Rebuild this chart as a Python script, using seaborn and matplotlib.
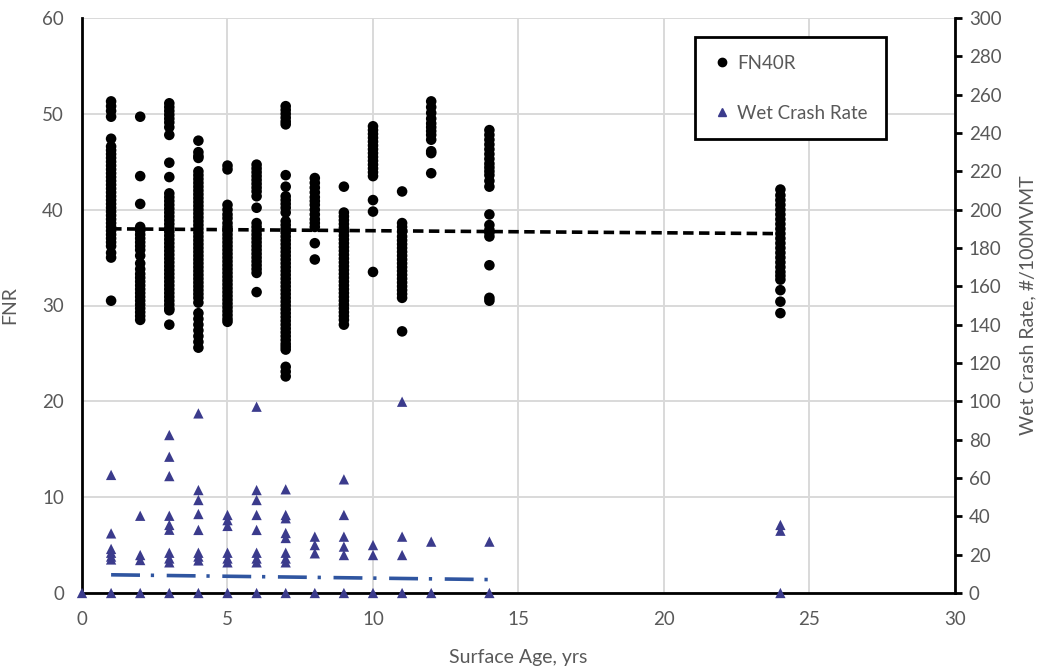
import numpy as np
import pandas as pd
import matplotlib
matplotlib.use("Agg")
import matplotlib.pyplot as plt
import seaborn as sns
from matplotlib.lines import Line2D

# ---------------- data ----------------
fnr_age1 = [51.3, 50.8, 50.3, 49.7, 47.4, 46.6, 46.2, 45.8, 45.4, 45.0, 44.6, 44.2, 43.8, 43.4, 43.0,
            42.6, 42.2, 41.8, 41.4, 41.0, 40.6, 40.2, 39.8, 39.4, 39.0, 38.6, 38.2, 37.8, 37.4, 37.0,
            36.6, 36.2, 35.5, 35.0, 30.5]
fnr_age2 = [49.7, 43.5, 40.6, 38.2, 37.8, 37.4, 37.0, 36.6, 36.2, 35.8, 35.2, 34.4, 33.8, 33.3, 32.9,
            32.5, 32.1, 31.7, 31.3, 30.9, 30.5, 30.1, 29.7, 29.3, 28.9, 28.5]
fnr_age3 = [51.1, 50.7, 50.3, 49.9, 49.5, 49.1, 48.6, 47.8, 44.9, 43.4, 41.7, 41.3, 40.9, 40.5, 40.1,
            39.7, 39.3, 38.9, 38.5, 38.1, 37.7, 37.3, 36.9, 36.5, 36.1, 35.7, 35.3, 34.9, 34.5, 34.1,
            33.7, 33.3, 32.9, 32.5, 32.1, 31.7, 31.3, 30.9, 30.5, 30.1, 29.7, 29.5, 28.0]
fnr_age4 = [47.2, 46.0, 45.6, 45.4, 44.0, 43.6, 43.2, 42.8, 42.4, 42.0, 41.6, 41.2, 40.8, 40.4, 40.0,
            39.6, 39.2, 38.8, 38.4, 38.0, 37.6, 37.2, 36.8, 36.4, 36.0, 35.6, 35.2, 34.8, 34.4, 34.0,
            33.6, 33.2, 32.8, 32.4, 32.0, 31.6, 31.2, 30.8, 30.3, 29.2, 28.6, 28.0, 27.4, 26.8, 26.2,
            25.6]
fnr_age5 = [44.6, 44.2, 40.5, 40.0, 39.5, 39.1, 38.6, 38.2, 37.8, 37.4, 37.0, 36.6, 36.2, 35.8, 35.4,
            35.0, 34.6, 34.2, 33.8, 33.4, 33.0, 32.6, 32.2, 31.8, 31.4, 31.0, 30.6, 30.2, 29.8, 29.4,
            29.0, 28.6, 28.3]
fnr_age6 = [44.7, 44.3, 43.9, 43.5, 43.1, 42.7, 42.3, 41.9, 41.4, 40.2, 38.6, 38.2, 37.8, 37.4, 37.0,
            36.6, 36.2, 35.8, 35.4, 35.0, 34.6, 34.2, 33.8, 33.4, 31.4]
fnr_age7 = [50.8, 50.4, 50.0, 49.6, 49.2, 48.9, 43.6, 42.4, 41.4, 41.0, 40.6, 40.2, 39.7, 38.8, 38.4,
            38.0, 37.6, 37.2, 36.8, 36.4, 36.0, 35.6, 35.2, 34.8, 34.4, 34.0, 33.6, 33.2, 32.8, 32.4,
            32.0, 31.6, 31.2, 30.8, 30.4, 30.0, 29.6, 29.2, 28.8, 28.4, 28.0, 27.6, 27.2, 26.8, 26.4,
            26.0, 25.7, 25.4, 23.6, 23.1, 22.6]
fnr_age8 = [43.3, 42.8, 42.3, 41.8, 41.3, 40.9, 40.5, 40.0, 39.5, 39.0, 38.6, 38.2, 36.5, 34.8]
fnr_age9 = [42.4, 39.7, 39.3, 38.9, 38.5, 38.1, 37.7, 37.3, 36.9, 36.5, 36.1, 35.7, 35.3, 34.9, 34.5,
            34.1, 33.7, 33.3, 32.9, 32.5, 32.1, 31.7, 31.3, 30.9, 30.5, 30.1, 29.7, 29.3, 28.9, 28.5,
            28.0]
fnr_age10 = [48.7, 48.3, 47.9, 47.5, 47.1, 46.7, 46.3, 45.9, 45.5, 45.1, 44.7, 44.3, 43.9, 43.5, 41.0,
             39.8, 33.5]
fnr_age11 = [41.9, 38.6, 38.2, 37.7, 37.2, 36.8, 36.4, 36.0, 35.6, 35.2, 34.8, 34.4, 34.0, 33.6, 33.2,
             32.8, 32.4, 32.0, 31.6, 31.2, 30.8, 27.3]
fnr_age12 = [51.3, 50.7, 50.1, 49.5, 49.0, 48.6, 48.2, 47.8, 47.3, 46.1, 45.9, 43.8]
fnr_age14 = [48.3, 47.8, 47.3, 46.8, 46.3, 45.8, 45.3, 44.8, 44.4, 44.0, 43.6, 43.0, 42.4, 39.5, 38.4,
             37.9, 37.6, 37.2, 34.2, 30.8, 30.5]
fnr_age24 = [42.1, 41.5, 41.0, 40.5, 40.0, 39.5, 39.0, 38.5, 38.0, 37.5, 37.0, 36.5, 36.0, 35.5, 35.0,
             34.5, 34.0, 33.5, 33.1, 32.7, 31.6, 30.4, 29.2]

crash_age0 = [0]
crash_age1 = [61.6, 31.1, 23, 21, 19, 17.5, 0]
crash_age2 = [40.3, 19.8, 17.2, 0]
crash_age3 = [82.4, 71.1, 61.0, 40.3, 35.5, 33, 21, 18, 16, 0]
crash_age4 = [93.7, 53.7, 48.5, 41.2, 32.9, 21, 19, 17, 0]
crash_age5 = [40.7, 38, 35, 21, 18, 16, 0]
crash_age6 = [97.2, 53.7, 48.5, 40.7, 32.9, 21, 18, 16, 0]
crash_age7 = [54.1, 40.7, 39, 31.3, 28.7, 21, 18, 16, 0]
crash_age8 = [29.4, 25.0, 20.7, 0]
crash_age9 = [59.3, 40.7, 29.4, 24.2, 19.8, 0]
crash_age10 = [25.0, 19.8, 0]
crash_age11 = [99.8, 29.4, 19.8, 0]
crash_age12 = [26.8, 0]
crash_age14 = [26.8, 0]
crash_age24 = [35.5, 32.5, 0]

fnr_trend_age = [1, 24]
fnr_trend_val = [38.0, 37.5]
crash_trend_age = [1, 14]
crash_trend_val = [9.5, 7.0]

x_ticks = [0, 5, 10, 15, 20, 25, 30]
fnr_ticks = [0, 10, 20, 30, 40, 50, 60]
crash_ticks = list(range(0, 301, 20))

fnr_groups = {1: fnr_age1, 2: fnr_age2, 3: fnr_age3, 4: fnr_age4, 5: fnr_age5, 6: fnr_age6,
              7: fnr_age7, 8: fnr_age8, 9: fnr_age9, 10: fnr_age10, 11: fnr_age11,
              12: fnr_age12, 14: fnr_age14, 24: fnr_age24}
crash_groups = {0: crash_age0, 1: crash_age1, 2: crash_age2, 3: crash_age3, 4: crash_age4,
                5: crash_age5, 6: crash_age6, 7: crash_age7, 8: crash_age8, 9: crash_age9,
                10: crash_age10, 11: crash_age11, 12: crash_age12, 14: crash_age14,
                24: crash_age24}

fnr_df = pd.DataFrame([(a, v) for a, vals in fnr_groups.items() for v in vals],
                      columns=["age", "fnr"])
crash_df = pd.DataFrame([(a, v) for a, vals in crash_groups.items() for v in vals],
                        columns=["age", "rate"])
fnr_tr = pd.DataFrame({"age": fnr_trend_age, "val": fnr_trend_val})
crash_tr = pd.DataFrame({"age": crash_trend_age, "val": crash_trend_val})

# ---------------- style ----------------
sns.set_theme(style="white")
plt.rcParams["font.family"] = ["Lato", "DejaVu Sans"]
gray = "#595959"
tri_color = "#3b3b8c"

fig = plt.figure(figsize=(10.41, 6.72), dpi=100)
ax = fig.add_axes([82 / 1041, 1 - 593 / 672, (955 - 82) / 1041, (593 - 18) / 672])
ax2 = ax.twinx()

sns.scatterplot(data=fnr_df, x="age", y="fnr", ax=ax, color="black", s=58,
                edgecolor="none", marker="o", zorder=3, legend=False)
sns.lineplot(data=fnr_tr, x="age", y="val", ax=ax, color="black", linewidth=2.6,
             linestyle=(0, (2.9, 1.5)), zorder=4, legend=False)

sns.scatterplot(data=crash_df, x="age", y="rate", ax=ax2, color=tri_color, s=55,
                edgecolor="none", marker="^", zorder=3, legend=False, clip_on=False)
sns.lineplot(data=crash_tr, x="age", y="val", ax=ax2, color="#2f55a0", linewidth=2.6,
             linestyle=(0, (8, 3, 0.9, 3.5)), zorder=4, legend=False)

# axes limits / ticks
ax.set_xlim(0, 30)
ax.set_ylim(0, 60)
ax2.set_ylim(0, 300)
ax.set_xticks(x_ticks)
ax.set_yticks(fnr_ticks)
ax2.set_yticks(crash_ticks)

ax.grid(True, color="#d9d9d9", linewidth=1.4)
ax.set_axisbelow(True)
ax2.grid(False)

for a in (ax, ax2):
    a.spines["top"].set_visible(False)
ax.spines["right"].set_visible(False)
ax.spines["left"].set_color("black")
ax.spines["left"].set_linewidth(2)
ax.spines["bottom"].set_color("black")
ax.spines["bottom"].set_linewidth(2)
ax2.spines["left"].set_visible(False)
ax2.spines["bottom"].set_visible(False)
ax2.spines["right"].set_color("black")
ax2.spines["right"].set_linewidth(2)

ax.tick_params(axis="x", length=0, pad=13, labelsize=13.5, labelcolor=gray)
ax.tick_params(axis="y", length=0, pad=13, labelsize=13.5, labelcolor=gray)
ax2.tick_params(axis="y", length=5, width=2, color="black", direction="out", pad=5,
                labelsize=13.5, labelcolor=gray)

ax.set_xlabel("Surface Age, yrs", fontsize=14, color=gray, labelpad=15)
ax.set_ylabel("FNR", fontsize=14, color=gray, labelpad=17)
ax2.set_ylabel("Wet Crash Rate, #/100MVMT", fontsize=14, color=gray, labelpad=13)

handles = [Line2D([], [], marker="o", linestyle="none", color="black", markersize=6),
           Line2D([], [], marker="^", linestyle="none", color=tri_color, markersize=6)]
leg = ax2.legend(handles, ["FN40R", "Wet Crash Rate"], loc="upper left",
                 bbox_to_anchor=(695 / 1041, 1 - 37 / 672), bbox_transform=fig.transFigure,
                 frameon=True, fancybox=False, edgecolor="black", framealpha=1,
                 fontsize=13.5, labelspacing=1.75, borderpad=0.95, handletextpad=0.3,
                 handlelength=1.0, borderaxespad=0)
leg.get_frame().set_linewidth(2)
for t in leg.get_texts():
    t.set_color(gray)

fig.savefig("out.png", dpi=100)
